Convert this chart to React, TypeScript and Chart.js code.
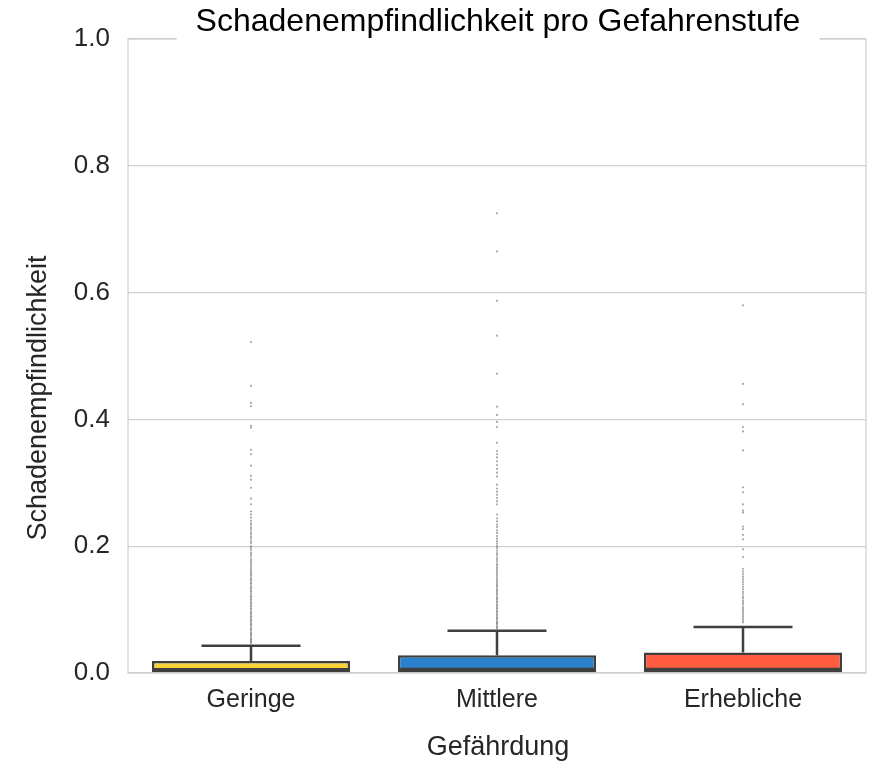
import React, { useEffect, useRef } from "react";
import { Chart, registerables } from "chart.js";

Chart.register(...registerables);

const categories = ["Geringe", "Mittlere", "Erhebliche"];
const q1 = [0.001, 0.001, 0.001];
const medians = [0.006, 0.0063, 0.0063];
const q3 = [0.019, 0.028, 0.0325];
const whiskerHigh = [0.043, 0.0667, 0.0726];
const boxColors = ["#F9D236", "#2B81CB", "#FE5C40"];
const yTicks = [0, 0.2, 0.4, 0.6, 0.8, 1.0];

const outliersGeringe = [
  0.047, 0.049, 0.051, 0.053, 0.055, 0.058, 0.06, 0.062, 0.064, 0.067, 0.069, 0.071,
  0.074, 0.076, 0.078, 0.081, 0.083, 0.085, 0.088, 0.09, 0.093, 0.095, 0.097, 0.1,
  0.102, 0.105, 0.107, 0.11, 0.112, 0.115, 0.117, 0.12, 0.122, 0.125, 0.128, 0.13,
  0.133, 0.135, 0.138, 0.141, 0.143, 0.146, 0.148, 0.151, 0.154, 0.156, 0.159, 0.162,
  0.165, 0.168, 0.171, 0.174, 0.177, 0.18, 0.184, 0.187, 0.19, 0.194, 0.197, 0.2,
  0.205, 0.208, 0.212, 0.215, 0.219, 0.222, 0.226, 0.229, 0.233, 0.236, 0.24, 0.245,
  0.25, 0.255, 0.266, 0.275, 0.292, 0.305, 0.311, 0.327, 0.345, 0.352, 0.387, 0.39,
  0.421, 0.426, 0.453, 0.522,
];

const outliersMittlere = [
  0.07, 0.072, 0.074, 0.077, 0.079, 0.081, 0.084, 0.086, 0.088, 0.091, 0.093, 0.096,
  0.098, 0.101, 0.103, 0.106, 0.108, 0.111, 0.113, 0.116, 0.118, 0.121, 0.124, 0.126,
  0.129, 0.131, 0.134, 0.137, 0.139, 0.142, 0.145, 0.148, 0.151, 0.154, 0.157, 0.16,
  0.163, 0.166, 0.169, 0.172, 0.176, 0.179, 0.182, 0.186, 0.189, 0.193, 0.197, 0.2,
  0.204, 0.208, 0.212, 0.216, 0.221, 0.225, 0.23, 0.234, 0.239, 0.244, 0.25, 0.266,
  0.271, 0.276, 0.281, 0.286, 0.291, 0.297, 0.31, 0.316, 0.322, 0.328, 0.334, 0.34,
  0.345, 0.35, 0.363, 0.388, 0.396, 0.407, 0.42, 0.472, 0.532, 0.587, 0.665, 0.725,
];

const outliersErhebliche = [
  0.08, 0.083, 0.086, 0.089, 0.092, 0.095, 0.098, 0.101, 0.104, 0.108, 0.111, 0.114,
  0.118, 0.121, 0.125, 0.128, 0.132, 0.136, 0.14, 0.144, 0.148, 0.152, 0.156, 0.16,
  0.164, 0.183, 0.195, 0.211, 0.218, 0.227, 0.231, 0.253, 0.256, 0.266, 0.285, 0.293,
  0.351, 0.381, 0.388, 0.424, 0.456, 0.58,
];

const outlierLists = [outliersGeringe, outliersMittlere, outliersErhebliche];

const titleText = "Schadenempfindlichkeit pro Gefahrenstufe";
const yTitle = "Schadenempfindlichkeit";
const xTitle = "Gefährdung";

const FONT = "'Liberation Sans', Arial, sans-serif";
const TEXT = "#262626";
const EDGE = "#3f3f3f";
const GRID = "#d0d0d0";

const boxPlugin = {
  id: "boxPlugin",
  beforeDatasetsDraw(chart: any) {
    const { ctx, chartArea } = chart;
    ctx.save();
    ctx.strokeStyle = GRID;
    ctx.lineWidth = 1.25;
    ctx.strokeRect(chartArea.left, chartArea.top, chartArea.right - chartArea.left, chartArea.bottom - chartArea.top);
    ctx.restore();
  },
  afterDatasetsDraw(chart: any) {
    const { ctx } = chart;
    const y = chart.scales.y;
    const meta = chart.getDatasetMeta(0);
    ctx.save();
    ctx.strokeStyle = EDGE;
    ctx.lineWidth = 2.5;
    ctx.lineCap = "butt";
    meta.data.forEach((el: any, i: number) => {
      const cx = el.x;
      const w = el.width;
      const ym = y.getPixelForValue(medians[i]);
      const yq3 = y.getPixelForValue(q3[i]);
      const yw = y.getPixelForValue(whiskerHigh[i]);
      ctx.beginPath();
      ctx.moveTo(cx - w / 2, ym);
      ctx.lineTo(cx + w / 2, ym);
      ctx.moveTo(cx, yq3);
      ctx.lineTo(cx, yw);
      ctx.moveTo(cx - w / 4, yw);
      ctx.lineTo(cx + w / 4, yw);
      ctx.stroke();
    });
    ctx.restore();
  },
  afterDraw(chart: any) {
    const { ctx, chartArea } = chart;
    ctx.save();
    ctx.font = `32px ${FONT}`;
    const tw = ctx.measureText(titleText).width;
    const tcx = (chartArea.left + chartArea.right) / 2 + 1;
    ctx.fillStyle = "#ffffff";
    ctx.fillRect(tcx - tw / 2 - 19, 35, tw + 38, 8);
    ctx.fillStyle = "#000000";
    ctx.textAlign = "center";
    ctx.textBaseline = "alphabetic";
    ctx.fillText(titleText, tcx, 31);
    ctx.font = `27px ${FONT}`;
    ctx.fillStyle = TEXT;
    ctx.fillText(xTitle, (chartArea.left + chartArea.right) / 2 + 1, 755);
    ctx.translate(46, 398);
    ctx.rotate(-Math.PI / 2);
    ctx.fillText(yTitle, 0, 0);
    ctx.restore();
  },
};

export default function App() {
  const ref = useRef<HTMLCanvasElement>(null);
  useEffect(() => {
    document.body.style.margin = "0";
    const outlierData: { x: string; y: number }[] = [];
    outlierLists.forEach((list, i) => list.forEach((v) => outlierData.push({ x: categories[i], y: v })));
    const chart = new Chart(ref.current as HTMLCanvasElement, {
      type: "bar",
      data: {
        labels: categories,
        datasets: [
          {
            type: "bar",
            data: categories.map((_, i) => [q1[i], q3[i]]) as any,
            backgroundColor: boxColors,
            borderColor: EDGE,
            borderWidth: 2.5,
            borderSkipped: false,
            barPercentage: 0.805,
            categoryPercentage: 1,
          } as any,
          {
            type: "line",
            data: outlierData as any,
            showLine: false,
            pointRadius: 1.1,
            pointBorderWidth: 0,
            pointBackgroundColor: "rgba(110,110,110,0.6)",
            pointBorderColor: "rgba(0,0,0,0)",
          } as any,
        ],
      },
      options: {
        responsive: false,
        animation: false,
        devicePixelRatio: 1,
        layout: { padding: { left: 0, right: 8, top: 39, bottom: 0 } },
        plugins: { legend: { display: false }, tooltip: { enabled: false }, title: { display: false } },
        scales: {
          x: {
            type: "category",
            grid: { display: false, drawTicks: false },
            border: { display: false },
            ticks: { font: { size: 25, family: FONT }, color: TEXT, padding: 12 },
            afterFit: (s: any) => {
              s.height = 91;
            },
          },
          y: {
            min: 0,
            max: 1,
            afterBuildTicks: (s: any) => {
              s.ticks = yTicks.map((v) => ({ value: v }));
            },
            grid: { color: GRID, lineWidth: 1.25, drawTicks: false },
            border: { display: false },
            ticks: {
              font: { size: 26, family: FONT },
              color: TEXT,
              padding: 18,
              callback: (v: any) => Number(v).toFixed(1),
            },
            afterFit: (s: any) => {
              s.width = 128;
            },
          },
        },
      },
      plugins: [boxPlugin],
    });
    return () => chart.destroy();
  }, []);
  return (
    <div style={{ width: 874, height: 764 }}>
      <canvas ref={ref} width={874} height={764} />
    </div>
  );
}
